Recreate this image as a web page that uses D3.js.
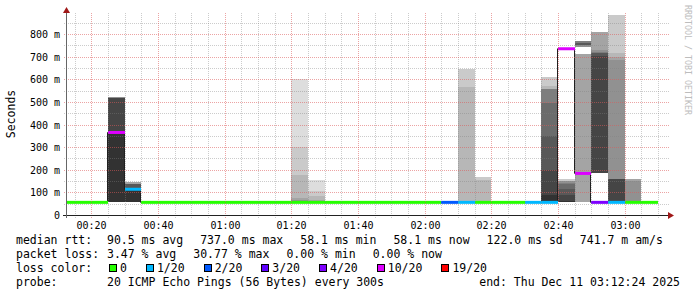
<!DOCTYPE html>
<html>
<head>
<meta charset="utf-8">
<script src="https://cdn.jsdelivr.net/npm/d3@7"></script>
<style>
  body { margin: 0; background: #fff; }
  svg { display: block; }
  text { font-family: 'DejaVu Sans Mono', monospace; fill: #000; }
</style>
</head>
<body>
<div id="smoke_chart"></div>
<script>
const U = null

// 5 minute steps (start of each step)
const steps = [
  '00:10', '00:15', '00:20', '00:25', '00:30', '00:35', '00:40', '00:45', '00:50', '00:55',
  '01:00', '01:05', '01:10', '01:15', '01:20', '01:25', '01:30', '01:35', '01:40', '01:45',
  '01:50', '01:55', '02:00', '02:05', '02:10', '02:15', '02:20', '02:25', '02:30', '02:35',
  '02:40', '02:45', '02:50', '02:55', '03:00', '03:05'
]

// median rtt per step, ms
const median = [
  58.1, 58.1, 58.1, 367, 116, 58.1, 58.1, 58.1, 58.1, 58.1,
  58.1, 58.1, 58.1, 58.1, 58.1, 58.1, 58.1, 58.1, 58.1, 58.1,
  58.1, 58.1, 58.1, 58.1, 58.1, 58.1, 58.1, 58.1, 58.1, 58.1,
  737, 186, 58.1, 58.1, 58.1, 58.1
]

// lost pings out of 20 per step
const loss = [
  0, 0, 0, 10, 1, 0, 0, 0, 0, 0,
  0, 0, 0, 0, 0, 0, 0, 0, 0, 0,
  0, 0, 0, 2, 1, 0, 0, 0, 1, 1,
  10, 10, 4, 1, 0, 0
]

// the 20 ping slots of each step in ms (U = lost), [] = everything sits under the median line
const pings = [
  [], [], [],
  [U, U, U, U, 58, 58, 58, 58, 58, 58, 367, 516, 516, 516, 516, 520, U, U, U, U],
  [58, 58, 58, 58, 58, 58, 58, 58, 58, 58, 116, 118, 139, 139, 139, 139, 145, 145, 145, U],
  [], [], [], [], [], [], [], [], [],
  [58, 58, 58, 58, 58, 58, 58, 58, 58, 58, 58, 58, 58, 58, 58, 65, 73, 175, 301, 603],
  [58, 58, 58, 58, 58, 58, 58, 58, 58, 58, 58, 58, 58, 58, 58, 58, 65, 83, 104, 155],
  [], [], [], [], [], [], [], [],
  [U, 58, 58, 58, 58, 58, 58, 58, 58, 58, 58, 58, 58, 58, 58, 58, 58, 565, 647, U],
  [58, 58, 58, 58, 58, 58, 58, 58, 58, 58, 58, 58, 58, 58, 58, 58, 58, 154, 167, U],
  [], [], [],
  [59, 59, 59, 59, 59, 59, 59, 59, 59, 59, 87, 201, 348, 496, 559, 559, 559, 572, 611, U],
  [58, 58, 58, 58, 58, 58, 58, 58, 58, 58, 64, 90, 113, 138, 140, 152, 152, 152, 161, U],
  [U, U, U, 58, 741, 761, 761, 750, U, U, U, U, 761, 761, 769, 750, 712, U, U, U],
  [U, U, U, 186, 186, 186, U, 186, 186, U, U, 702, 714, U, 721, 731, 809, U, U, U],
  [U, 58, 58, 58, 58, 58, 58, 58, 58, U, U, 157, 157, 157, 157, 684, 699, 717, 884, U],
  [58, 58, 58, 58, 58, 58, 58, 58, 58, 58, 58, 58, 58, 58, 58, 152, 161, 161, 161, U],
  [], []
]

const lossLevels = [0, 1, 2, 3, 4, 10, 19]
const lossLabels = ['0', '1/20', '2/20', '3/20', '4/20', '10/20', '19/20']
const lossColors = ['#26ff00', '#00b8ff', '#0059ff', '#5e00ff', '#7e00ff', '#dd00ff', '#ff0000']

const rttSummary = ['90.5 ms avg', '737.0 ms max', '58.1 ms min', '58.1 ms now', '122.0 ms sd', '741.7 m am/s']
const lossSummary = ['3.47 % avg', '30.77 % max', '0.00 % min', '0.00 % now']
const probeText = '20 ICMP Echo Pings (56 Bytes) every 300s'
const endText = 'end: Thu Dec 11 03:12:24 2025'

const width = 697
const height = 297
const plotLeft = 66
const plotRight = 666
const plotTop = 15
const plotBottom = 215

const day = (h, m, s = 0) => new Date(Date.UTC(2025, 11, 11, h, m, s))
const parseStep = (s) => day(+s.slice(0, 2), +s.slice(3, 5))

const x = d3.scaleUtc().domain([day(0, 12, 24), day(3, 12, 24)]).range([plotLeft, plotRight])
const y = d3.scaleLinear().domain([0, 0.884]).range([plotBottom, plotTop])
const xr = (t) => Math.round(x(t))
const yr = (ms) => Math.round(y(ms / 1000))

const svg = d3
  .select('#smoke_chart')
  .append('svg')
  .attr('width', width)
  .attr('height', height)

svg.append('rect').attr('width', width).attr('height', height).attr('fill', '#fff')

svg
  .append('clipPath')
  .attr('id', 'plot')
  .append('rect')
  .attr('x', plotLeft)
  .attr('y', 0)
  .attr('width', plotRight - plotLeft)
  .attr('height', plotBottom + 4)

const data = steps.map((s, i) => ({
  start: parseStep(s),
  end: d3.utcMinute.offset(parseStep(s), 5),
  median: median[i],
  loss: loss[i],
  pings: pings[i],
}))

// smoke: slot k paired with slot 21-k, darker towards the middle
const shade = (k) => {
  const c = Math.floor((190 / 10) * (10 - k)) + 50
  return d3.rgb(c, c, c).formatHex()
}
const bands = []
data.forEach((d) => {
  if (d.pings.length !== 20) return
  for (let k = 1; k <= 10; k++) {
    const lo = d.pings[k - 1]
    const hi = d.pings[20 - k]
    if (lo === null || hi === null || lo === hi) continue
    bands.push({ d, k, lo: Math.min(lo, hi), hi: Math.max(lo, hi) })
  }
})

const plot = svg.append('g').attr('clip-path', 'url(#plot)')
plot
  .selectAll('rect.smoke')
  .data(bands)
  .join('rect')
  .attr('class', 'smoke')
  .attr('x', (b) => xr(b.d.start))
  .attr('width', (b) => xr(b.d.end) - xr(b.d.start))
  .attr('y', (b) => yr(b.hi))
  .attr('height', (b) => yr(b.lo) - yr(b.hi))
  .attr('fill', (b) => shade(b.k))

// grid
const grid = svg.append('g').attr('shape-rendering', 'crispEdges')
const minorY = y.ticks(20).filter((v) => Math.round(v * 100) % 10 !== 0)
const majorY = y.ticks(10).filter((v) => v > 0)
const minorX = x.ticks(d3.utcMinute.every(5)).filter((t) => t.getUTCMinutes() % 20 !== 0)
const majorX = x.ticks(d3.utcMinute.every(20))

const hLines = (vals, color, op) =>
  grid
    .append('g')
    .selectAll('line')
    .data(vals)
    .join('line')
    .attr('x1', plotLeft - 2)
    .attr('x2', plotRight + 4)
    .attr('y1', (v) => Math.round(y(v)) + 0.5)
    .attr('y2', (v) => Math.round(y(v)) + 0.5)
    .attr('stroke', color)
    .attr('stroke-opacity', op)
    .attr('stroke-dasharray', '1,1')
const vLines = (vals, color, op) =>
  grid
    .append('g')
    .selectAll('line')
    .data(vals)
    .join('line')
    .attr('x1', (t) => xr(t) + 0.5)
    .attr('x2', (t) => xr(t) + 0.5)
    .attr('y1', plotTop - 2)
    .attr('y2', plotBottom + 4)
    .attr('stroke', color)
    .attr('stroke-opacity', op)
    .attr('stroke-dasharray', '1,1')

hLines(minorY, 'rgb(128,128,128)', 0.4)
vLines(minorX, 'rgb(128,128,128)', 0.4)
hLines(majorY, 'rgb(220,90,90)', 0.55)
vLines(majorX, 'rgb(220,90,90)', 0.55)

// median: thin step line, then thick segments coloured by loss
const stepPts = data.map((d) => [xr(d.start) - 0.5, y(d.median / 1000) + 0.5])
const last = data[data.length - 1]
stepPts.push([xr(last.end) - 0.5, y(last.median / 1000) + 0.5])
plot
  .append('path')
  .attr('d', d3.line().curve(d3.curveStepAfter)(stepPts))
  .attr('fill', 'none')
  .attr('stroke', '#202020')
  .attr('stroke-width', 1)

const lossColor = (l) => {
  let c = lossColors[0]
  lossLevels.forEach((lv, i) => {
    if (l >= lv) c = lossColors[i]
  })
  return c
}
plot
  .selectAll('line.median')
  .data(data)
  .join('line')
  .attr('class', 'median')
  .attr('x1', (d) => xr(d.start))
  .attr('x2', (d) => xr(d.end))
  .attr('y1', (d) => y(d.median / 1000) + 0.5)
  .attr('y2', (d) => y(d.median / 1000) + 0.5)
  .attr('stroke', (d) => lossColor(d.loss))
  .attr('stroke-width', 3)

// axes
const axes = svg.append('g').attr('shape-rendering', 'crispEdges')
axes
  .append('line')
  .attr('x1', plotLeft - 3)
  .attr('x2', plotRight + 3)
  .attr('y1', plotBottom + 0.5)
  .attr('y2', plotBottom + 0.5)
  .attr('stroke', '#222')
axes
  .append('line')
  .attr('x1', plotLeft + 0.5)
  .attr('x2', plotLeft + 0.5)
  .attr('y1', plotTop - 4)
  .attr('y2', plotBottom + 3)
  .attr('stroke', '#666')

svg
  .append('path')
  .attr('d', `M${plotLeft - 3},${plotTop - 2}L${plotLeft + 4},${plotTop - 2}L${plotLeft + 0.5},${plotTop - 8}Z`)
  .attr('fill', '#a01818')
svg
  .append('path')
  .attr('d', `M${plotRight + 2},${plotBottom - 3}L${plotRight + 2},${plotBottom + 4}L${plotRight + 8},${plotBottom + 0.5}Z`)
  .attr('fill', '#a01818')

svg
  .append('g')
  .selectAll('text')
  .data(y.ticks(10))
  .join('text')
  .attr('x', 60)
  .attr('y', (v) => Math.round(y(v)) + 4)
  .attr('text-anchor', 'end')
  .style('font-size', '10px')
  .text((v) => (v === 0 ? '0' : Math.round(v * 1000) + ' m'))

svg
  .append('g')
  .selectAll('text')
  .data(majorX)
  .join('text')
  .attr('x', (t) => xr(t) + 0.5)
  .attr('y', 229)
  .attr('text-anchor', 'middle')
  .style('font-size', '10px')
  .text(d3.utcFormat('%H:%M'))

svg
  .append('text')
  .attr('transform', 'translate(15,114) rotate(-90)')
  .attr('text-anchor', 'middle')
  .style('font-size', '11.5px')
  .text('Seconds')

svg
  .append('text')
  .attr('transform', 'translate(684.5,5) rotate(90)')
  .style('font-size', '8.3px')
  .style('fill', '#bdbdbd')
  .text('RRDTOOL / TOBI OETIKER')

// legend: label column at 16, values flow from 107 with a fixed gap
const legend = svg.append('g').style('font-size', '11.5px').attr('xml:space', 'preserve')
const flow = (items, yPos) => {
  let cx = 107
  items.forEach((t) => {
    const el = legend.append('text').attr('x', cx).attr('y', yPos).text(t)
    cx += el.node().getComputedTextLength() + 17
  })
}
legend.append('text').attr('x', 16).attr('y', 244).text('median rtt:')
flow(rttSummary, 244)
legend.append('text').attr('x', 16).attr('y', 258).text('packet loss:')
flow(lossSummary, 258)

legend.append('text').attr('x', 16).attr('y', 272).text('loss color:')
let cursor = 109
lossLabels.forEach((lbl, i) => {
  legend
    .append('rect')
    .attr('x', cursor + 0.5)
    .attr('y', 264.5)
    .attr('width', 7)
    .attr('height', 7)
    .attr('fill', lossColors[i])
    .attr('stroke', '#000')
    .attr('shape-rendering', 'crispEdges')
  const t = legend.append('text').attr('x', cursor + 11).attr('y', 272).text(lbl)
  cursor += 11 + t.node().getComputedTextLength() + 19
})
legend.append('text').attr('x', 16).attr('y', 285.5).text('probe:')
legend.append('text').attr('x', 107).attr('y', 285.5).text(probeText)
legend.append('text').attr('x', 680).attr('y', 285.5).attr('text-anchor', 'end').text(endText)
</script>
</body>
</html>
